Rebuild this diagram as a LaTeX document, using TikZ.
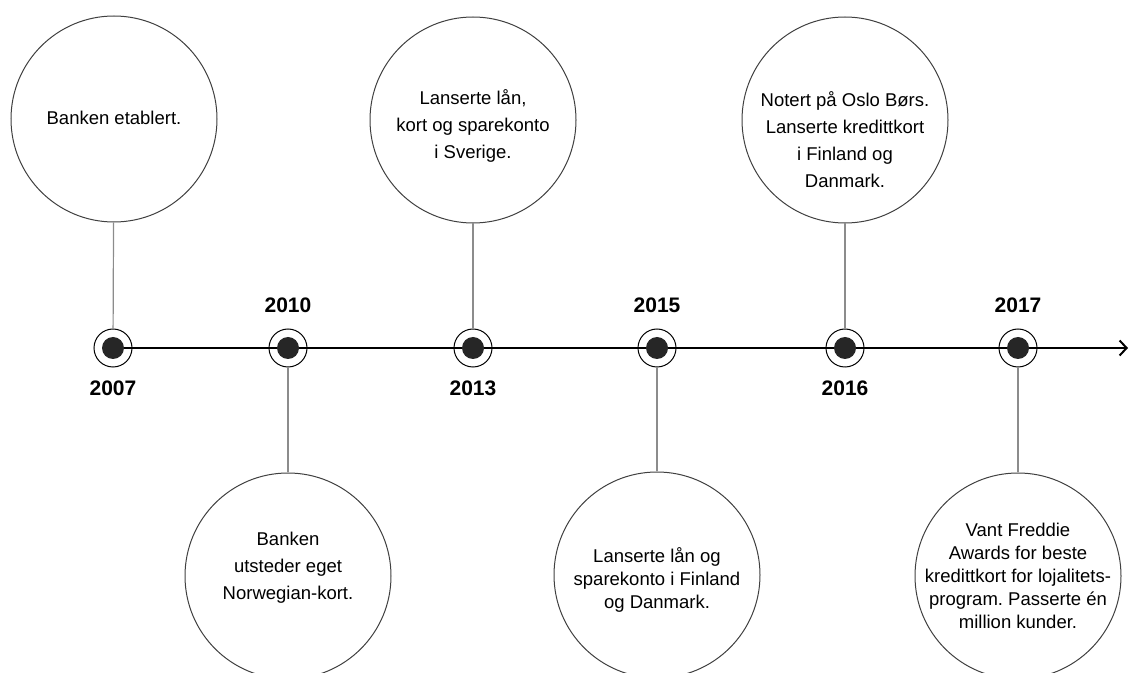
\documentclass[tikz,border=0pt]{standalone}
\usepackage{fontspec}
\setmainfont{Liberation Sans}
\usetikzlibrary{arrows.meta}
\frenchspacing

\begin{document}
\begin{tikzpicture}[x=0.5pt,y=-0.5pt]
    \tikzset{event/.style = {shape=circle,draw=black!75,line width=0.5pt,minimum size=103pt,inner sep=0pt}}
    \tikzset{txt/.style = {align=center,font=\fontsize{9.25}{13.5}\selectfont}}
    \tikzset{tight/.style = {align=center,font=\fontsize{9.25}{11.5}\selectfont}}
    \tikzset{ring/.style = {shape=circle,draw,line width=0.5pt,minimum size=19pt,inner sep=0pt}}
    \tikzset{dot/.style = {shape=circle,fill=black!85,minimum size=11pt,inner sep=0pt}}
    \tikzset{year/.style = {font=\fontsize{10.5}{12}\selectfont\bfseries}}
    \tikzset{link/.style = {draw=black!45,line width=0.6pt}}
    \useasboundingbox (0,0) rectangle (1130,673);
    % axis
    \coordinate (end) at (1128,348);
    \coordinate (start) at (113,348);
    \draw[line width=1pt,-{Straight Barb[length=3.5pt,width=7.5pt]}] (start) -- (end);
    % markers
    \node[ring] (r1) at (113,348) {};
    \node[dot] (d1) at (113,348) {};
    \node[ring] (r2) at (288,348) {};
    \node[dot] (d2) at (288,348) {};
    \node[ring] (r3) at (473,348) {};
    \node[dot] (d3) at (473,348) {};
    \node[ring] (r4) at (657,348) {};
    \node[dot] (d4) at (657,348) {};
    \node[ring] (r5) at (845,348) {};
    \node[dot] (d5) at (845,348) {};
    \node[ring] (r6) at (1018,348) {};
    \node[dot] (d6) at (1018,348) {};
    % years
    \node[year] (y1) at (113,388) {2007};
    \node[year] (y2) at (288,305) {2010};
    \node[year] (y3) at (473,388) {2013};
    \node[year] (y4) at (657,305) {2015};
    \node[year] (y5) at (845,388) {2016};
    \node[year] (y6) at (1018,305) {2017};
    % events
    \node[event] (c1) at (114,119) {};
    \node[event] (c2) at (288,576) {};
    \node[event] (c3) at (473,120) {};
    \node[event] (c4) at (657,575) {};
    \node[event] (c5) at (845,120) {};
    \node[event] (c6) at (1018,576) {};
    \node[txt] (t1) at (114,118) {Banken etablert.};
    \node[txt] (t2) at (288,568) {Banken\\utsteder eget\\Norwegian-kort.};
    \node[txt] (t3) at (473,126) {Lanserte lån,\\kort og sparekonto\\i Sverige.};
    \node[tight] (t4) at (657,580) {Lanserte lån og\\sparekonto i Finland\\og Danmark.};
    \node[txt] (t5) at (845,140) {Notert på Oslo Børs.\\Lanserte kredittkort\\i Finland og\\Danmark.};
    \node[tight] (t6) at (1018,576) {Vant Freddie\\Awards for beste\\kredittkort for lojalitets-\\program. Passerte én\\million kunder.};
    %links
    \draw[link] (c1) -- (r1);
    \draw[link] (r2) -- (c2);
    \draw[link] (c3) -- (r3);
    \draw[link] (r4) -- (c4);
    \draw[link] (c5) -- (r5);
    \draw[link] (r6) -- (c6);
\end{tikzpicture}
\end{document}
